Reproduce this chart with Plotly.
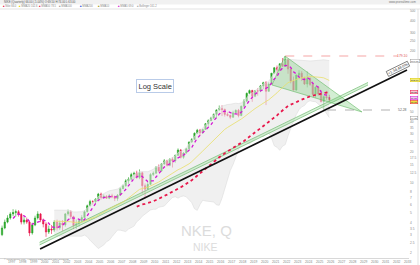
import numpy as np
import pandas as pd
import plotly.graph_objects as go

# ---------------- data (quarterly) ----------------
YEARS = list(range(1996, 2026))
QUARTER_DATES = [f"{y}-{m:02d}-15" for y in YEARS for m in (2, 5, 8, 11)]

OPEN = [3.05, 3.55, 4.06, 4.46, 4.89, 5.05, 5.15, 4.85, 4.06, 4.26, 4.06, 3.17,
        3.80, 4.46, 4.89, 4.26, 3.89, 3.24, 3.47, 3.39, 4.06, 3.55, 3.98, 3.80,
        4.89, 5.15, 4.60, 3.75, 3.90, 4.20, 4.50, 5.15, 5.90, 6.50, 6.45, 6.85,
        7.70, 7.10, 7.30, 7.00, 7.40, 7.25, 6.95, 7.50, 8.70, 9.30, 10.40, 10.80,
        12.00, 12.40, 11.20, 12.50, 9.30, 8.60, 9.60, 12.00, 12.40, 14.20, 13.00, 15.30,
        16.40, 14.80, 17.00, 16.40, 18.60, 21.00, 17.80, 19.60, 21.60, 25.20, 26.80, 30.80,
        33.00, 31.10, 33.50, 38.20, 41.00, 43.50, 47.50, 52.40, 54.00, 53.00, 47.30, 46.30,
        44.30, 49.00, 52.00, 46.00, 57.00, 64.00, 76.50, 81.50, 71.50, 81.00, 80.50, 90.50,
        97.50, 80.00, 94.50, 121.00, 137.00, 129.50, 150.00, 141.50, 165.00, 133.00, 101.00, 82.50,
        116.00, 121.00, 109.00, 94.50, 107.50, 93.50, 75.00, 88.00, 75.30, 63.40, 70.80, 69.50]

HIGH = [3.75, 4.30, 4.75, 5.10, 5.45, 5.40, 5.35, 5.00, 4.55, 4.50, 4.20, 4.00,
        4.70, 5.20, 5.00, 4.40, 4.05, 3.75, 3.80, 4.25, 4.30, 4.20, 4.25, 5.00,
        5.40, 5.30, 4.70, 4.30, 4.35, 4.75, 5.30, 6.05, 6.75, 6.70, 7.00, 7.90,
        7.95, 7.65, 7.50, 7.70, 7.75, 7.45, 7.70, 8.95, 9.55, 10.80, 11.30, 12.50,
        12.80, 13.10, 13.50, 12.80, 9.80, 10.20, 12.40, 12.90, 14.50, 15.10, 15.60, 17.10,
        16.80, 17.40, 17.80, 18.90, 21.80, 21.50, 20.00, 22.00, 25.50, 27.50, 31.30, 34.00,
        34.00, 34.10, 38.90, 42.30, 44.80, 48.10, 53.00, 58.00, 58.20, 54.00, 49.50, 47.00,
        51.50, 52.80, 53.60, 57.80, 67.00, 77.80, 83.50, 83.00, 81.90, 86.00, 92.50, 99.50,
        101.00, 98.50, 121.60, 139.50, 144.00, 151.50, 171.00, 179.10, 168.50, 135.50, 112.00, 117.50,
        129.50, 127.00, 111.50, 126.50, 110.00, 98.50, 89.00, 90.00, 82.50, 72.50, 81.00, 74.00]

LOW = [2.95, 3.45, 3.95, 4.30, 4.65, 4.60, 4.60, 3.85, 3.85, 3.90, 2.95, 3.05,
       3.70, 4.30, 4.05, 3.60, 2.90, 3.10, 3.10, 3.25, 3.35, 3.40, 3.30, 3.65,
       4.70, 4.35, 3.45, 3.45, 3.65, 4.05, 4.40, 5.05, 5.80, 6.05, 6.10, 6.60,
       6.80, 6.95, 6.90, 6.85, 7.00, 6.55, 6.60, 7.40, 8.60, 9.10, 9.70, 10.50,
       10.80, 10.90, 10.80, 7.75, 7.00, 8.50, 9.40, 11.60, 12.20, 12.70, 12.80, 15.00,
       14.40, 14.50, 14.10, 15.70, 18.30, 17.30, 17.20, 19.30, 21.30, 24.80, 26.40, 30.20,
       29.00, 30.40, 33.20, 36.50, 40.80, 42.50, 43.00, 51.50, 45.50, 45.00, 45.20, 42.50,
       43.90, 47.50, 44.20, 45.50, 56.50, 63.20, 75.00, 63.00, 70.00, 72.50, 78.50, 84.00,
       58.50, 79.50, 93.50, 118.50, 115.00, 126.50, 140.00, 140.50, 119.50, 96.00, 81.50, 81.00,
       105.50, 101.00, 92.50, 87.50, 90.50, 73.50, 69.50, 72.50, 62.00, 52.28, 66.00, 63.00]

CLOSE = [3.55, 4.06, 4.46, 4.89, 5.05, 5.15, 4.85, 4.06, 4.26, 4.06, 3.17, 3.80,
         4.46, 4.89, 4.26, 3.89, 3.24, 3.47, 3.39, 4.06, 3.55, 3.98, 3.80, 4.89,
         5.15, 4.60, 3.75, 3.90, 4.20, 4.50, 5.15, 5.90, 6.50, 6.45, 6.85, 7.70,
         7.10, 7.30, 7.00, 7.40, 7.25, 6.95, 7.50, 8.70, 9.30, 10.40, 10.80, 12.00,
         12.40, 11.20, 12.50, 9.30, 8.60, 9.60, 12.00, 12.40, 14.20, 13.00, 15.30, 16.40,
         14.80, 17.00, 16.40, 18.60, 21.00, 17.80, 19.60, 21.60, 25.20, 26.80, 30.80, 33.00,
         31.10, 33.50, 38.20, 41.00, 43.50, 47.50, 52.40, 54.00, 53.00, 47.30, 46.30, 44.30,
         49.00, 52.00, 46.00, 57.00, 64.00, 76.50, 81.50, 71.50, 81.00, 80.50, 90.50, 97.50,
         80.00, 94.50, 121.00, 137.00, 129.50, 150.00, 141.50, 165.00, 133.00, 101.00, 82.50, 116.00,
         121.00, 109.00, 94.50, 107.50, 93.50, 75.00, 88.00, 75.30, 63.40, 70.80, 69.50, 66.00]

# drawn objects (data coordinates)
SUPPORT_DATES = ["1999-08-01", "2032-12-10"]
SUPPORT_PRICES = [2.20, 130.2]
CHANNEL_DATES = ["1999-07-15", "2029-05-25"]
CHANNEL_LOW = [2.41, 92.5]
CHANNEL_HIGH = [2.56, 98.0]
TRIANGLE_DATES = ["2021-11-05", "2020-09-01", "2028-11-05", "2021-11-05"]
TRIANGLE_PRICES = [179.1, 92.5, 50.0, 179.1]
ATH_LEVEL = 179.10
ATH_DATES = ["2021-11-15", "2032-02-15"]
LOW_LEVEL = 52.28
LOW_DATES = ["2025-09-01", "2032-02-15"]
TREND_LABEL = "+1.34,48.0%"
TREND_LABEL_POS = ("2032-02-01", 133.0)

YTICKS = [2, 2.5, 3, 3.5, 4, 5, 6, 7, 8, 10, 12.5, 15, 17.5, 20, 25, 30, 35, 40, 50,
          60, 80, 100, 150, 200, 250, 300, 400, 500]
XTICK_YEARS = list(range(1997, 2034))

# ---------------- indicators ----------------
close = pd.Series(CLOSE)
ma5 = close.rolling(5).mean()
ma20 = close.rolling(20).mean()
ma50 = close.rolling(50).mean()
sd20 = close.rolling(20).std(ddof=0)
bb_up = ma20 + 2 * sd20
bb_lo = (ma20 - 2 * sd20).clip(lower=0.5)
valid = ma20.notna().values
bb_dates = [d for d, v in zip(QUARTER_DATES, valid) if v]

GREEN = "#26a526"
RED = "#e8174b"
FONT = "Liberation Sans, Arial, sans-serif"

fig = go.Figure()

# Bollinger band fill
fig.add_trace(go.Scatter(x=bb_dates, y=bb_up[valid], mode="lines",
                         line=dict(color="#dcdcdc", width=0.6), hoverinfo="skip"))
fig.add_trace(go.Scatter(x=bb_dates, y=bb_lo[valid], mode="lines", fill="tonexty",
                         fillcolor="rgba(228,228,228,0.55)",
                         line=dict(color="#dcdcdc", width=0.6), hoverinfo="skip"))

# green channel
fig.add_trace(go.Scatter(x=CHANNEL_DATES, y=CHANNEL_LOW, mode="lines",
                         line=dict(color="#72bd72", width=0.7), hoverinfo="skip"))
fig.add_trace(go.Scatter(x=CHANNEL_DATES, y=CHANNEL_HIGH, mode="lines", fill="tonexty",
                         fillcolor="rgba(170,225,170,0.45)",
                         line=dict(color="#72bd72", width=0.7), hoverinfo="skip"))

# triangle
fig.add_trace(go.Scatter(x=TRIANGLE_DATES, y=TRIANGLE_PRICES, mode="lines", fill="toself",
                         fillcolor="rgba(110,200,110,0.30)",
                         line=dict(color="rgba(90,180,90,0.8)", width=0.7), hoverinfo="skip"))

# moving averages
fig.add_trace(go.Scatter(x=QUARTER_DATES, y=ma20, mode="lines",
                         line=dict(color="#e8df6a", width=0.8), hoverinfo="skip"))
fig.add_trace(go.Scatter(x=QUARTER_DATES, y=ma50, mode="lines",
                         line=dict(color=RED, width=1.8, dash="dot"), hoverinfo="skip"))

# candles
fig.add_trace(go.Candlestick(x=QUARTER_DATES, open=OPEN, high=HIGH, low=LOW, close=CLOSE,
                             increasing=dict(line=dict(color=GREEN, width=0.6), fillcolor=GREEN),
                             decreasing=dict(line=dict(color=RED, width=0.6), fillcolor=RED),
                             whiskerwidth=0, hoverinfo="skip"))

fig.add_trace(go.Scatter(x=QUARTER_DATES, y=ma5, mode="lines",
                         line=dict(color="#d416d4", width=1.3, dash="dot"), hoverinfo="skip"))

# support line
fig.add_trace(go.Scatter(x=SUPPORT_DATES, y=SUPPORT_PRICES, mode="lines",
                         line=dict(color="#111111", width=1.7), hoverinfo="skip"))

# horizontal dashed levels
fig.add_trace(go.Scatter(x=ATH_DATES, y=[ATH_LEVEL, ATH_LEVEL], mode="lines",
                         line=dict(color="#f08080", width=0.7, dash="dash"), hoverinfo="skip"))
fig.add_trace(go.Scatter(x=LOW_DATES, y=[LOW_LEVEL, LOW_LEVEL], mode="lines",
                         line=dict(color="#909090", width=0.7, dash="dash"), hoverinfo="skip"))

ann = []
ann.append(dict(xref="paper", yref="y", x=0.9995, y=np.log10(ATH_LEVEL), xanchor="right",
                yanchor="middle", text=f"{ATH_LEVEL:.2f}", showarrow=False,
                font=dict(family=FONT, size=3.4, color="#e05050")))
ann.append(dict(xref="paper", yref="y", x=0.9995, y=np.log10(LOW_LEVEL), xanchor="right",
                yanchor="middle", text=f"{LOW_LEVEL:.2f}", showarrow=False,
                font=dict(family=FONT, size=3.4, color="#606060")))
ann.append(dict(xref="x", yref="y", x=TREND_LABEL_POS[0], y=np.log10(TREND_LABEL_POS[1]),
                text=TREND_LABEL, showarrow=False, textangle=-26,
                font=dict(family=FONT, size=3.8, color="#333333"),
                bgcolor="white", bordercolor="#444444", borderwidth=0.6, borderpad=0.6))

# Log Scale box
ann.append(dict(xref="paper", yref="paper", x=155 / 409, y=(258 - 79) / 249, text="Log Scale",
                showarrow=False, font=dict(family=FONT, size=7.5, color="#333333"),
                bgcolor="white", bordercolor="#b9cbe8", borderwidth=1, borderpad=1.5))

# watermark
ann.append(dict(xref="paper", yref="paper", x=206 / 409, y=(258 - 241) / 249, text="NKE, Q",
                showarrow=False, font=dict(family=FONT, size=15, color="#dcdcdc")))
ann.append(dict(xref="paper", yref="paper", x=205 / 409, y=(258 - 254.5) / 249, text="NIKE",
                showarrow=False, font=dict(family=FONT, size=10.5, color="#dcdcdc")))

# header
last = CLOSE[-1]
chg = (CLOSE[-1] / CLOSE[-2] - 1) * 100
ann.append(dict(xref="paper", yref="paper", x=0.004, y=(258 - 2.3) / 249, xanchor="left",
                yanchor="middle", showarrow=False,
                text=f"NIKE (Quarterly) {last:.2f} ({chg:+.2f}%) O:{OPEN[-1]:.2f} H:{HIGH[-1]:.2f} L:{LOW[-1]:.2f}",
                font=dict(family=FONT, size=2.8, color="#555555")))
legend_items = [
    (1, RED, f"Nike {last:.1f}"),
    (17, "#e6d200", f"MMA20 {ma20.iloc[-1]:.1f}"),
    (37, RED, f"MMA50 {ma50.iloc[-1]:.1f}"),
    (57, "#9a9a9a", "MMA100"),
    (78, "#1f3fe0", "MMA200"),
    (96, "#a09a20", "MMA10"),
    (116, "#d416d4", f"MMA5 {ma5.iloc[-1]:.1f}"),
    (135, "#aaaaaa", f"Bollinger {bb_up.iloc[-1]:.1f}"),
]
for px, col, txt in legend_items:
    ann.append(dict(xref="paper", yref="paper", x=px / 409, y=(258 - 6.3) / 249, xanchor="left",
                    yanchor="middle", showarrow=False,
                    text=f"<span style='color:{col}'>■</span> {txt}",
                    font=dict(family=FONT, size=2.6, color="#888888")))
ann.append(dict(xref="paper", yref="paper", x=418 / 409, y=(258 - 2.3) / 249, xanchor="right",
                yanchor="middle", showarrow=False, text="www.prorealtime.com",
                font=dict(family=FONT, size=2.8, color="#777777")))
ann.append(dict(xref="paper", yref="paper", x=0.004, y=(258 - 259.5) / 249, xanchor="left",
                yanchor="middle", showarrow=False,
                text="© ProRealTime.com - Historical data adjusted after dividends",
                font=dict(family=FONT, size=2.4, color="#777777")))

# last-value boxes on the price axis (nudged apart so they do not overlap)
boxes = [
    (bb_up.iloc[-1], "white", "#999999", "#555555"),
    (ma20.iloc[-1], "#f3ec7a", "#d8c800", "#333333"),
    (ma50.iloc[-1], "#f7c6d2", RED, "#333333"),
    (ma5.iloc[-1], "#f2c4f2", "#d416d4", "#333333"),
    (CLOSE[-1], "#f0e040", RED, "#333333"),
    (max(bb_lo.iloc[-1], 1.0), "white", "#999999", "#555555"),
]
boxes.sort(key=lambda b: -b[0])
gap = 4.2 / 101  # decades per ~4 px
prev = None
box_pos = []
for val, bg, bc, fc in boxes:
    pos = np.log10(val)
    if prev is not None and prev - pos < gap:
        pos = prev - gap
    prev = pos
    box_pos.append(pos)
    ann.append(dict(xref="paper", yref="y", x=1.003, y=pos, xanchor="left",
                    yanchor="middle", showarrow=False, text=f"{val:.2f}",
                    font=dict(family=FONT, size=2.5, color=fc),
                    bgcolor=bg, bordercolor=bc, borderwidth=0.5, borderpad=0.2))

# price-axis labels hidden where a value box covers them
shown_ticks = [v for v in YTICKS
               if all(abs(np.log10(v) - p) > 4.0 / 101 for p in box_pos)]

shapes = [
    dict(type="rect", xref="paper", yref="paper", x0=0, x1=420 / 409,
         y0=(258 - 4.6) / 249, y1=1.08, fillcolor="#f1f1f1", line_width=0,
         layer="below"),
    dict(type="line", xref="paper", yref="paper", x0=0, x1=420 / 409, y0=1, y1=1,
         line=dict(color="#d0d0d0", width=0.6)),
    dict(type="line", xref="paper", yref="paper", x0=418 / 409, x1=418 / 409, y0=-0.03, y1=1,
         line=dict(color="#d0d0d0", width=0.6)),
]

fig.update_layout(
    width=420, height=265,
    margin=dict(l=0, r=11, t=9, b=7),
    paper_bgcolor="white", plot_bgcolor="white",
    showlegend=False,
    annotations=ann,
    shapes=shapes,
    xaxis=dict(type="date", range=["1995-12-09", "2033-02-14"],
               rangeslider=dict(visible=False),
               tickvals=[f"{y}-01-01" for y in XTICK_YEARS],
               ticktext=[str(y) for y in XTICK_YEARS],
               tickfont=dict(family=FONT, size=3.3, color="#888888"),
               showgrid=False, zeroline=False, showline=True, linecolor="#d8d8d8",
               linewidth=0.6, ticks="", ticklen=0, tickangle=0),
    yaxis=dict(type="log", range=[0.2531, 2.7184], side="right",
               tickvals=shown_ticks, ticktext=[f"{v:g}" for v in shown_ticks],
               tickfont=dict(family=FONT, size=3.2, color="#888888"),
               showgrid=False, zeroline=False, showline=False, ticks=""),
    font=dict(family=FONT),
)

fig.write_html("out.html")
